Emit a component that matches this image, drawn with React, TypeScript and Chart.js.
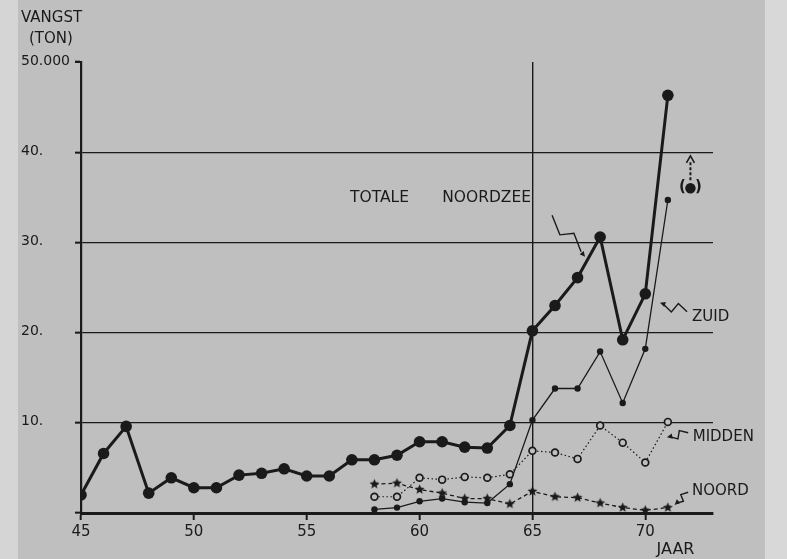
import React, { useEffect, useRef } from "react";
import { Chart, registerables } from "chart.js";

Chart.register(...registerables);

// ---------- data (thousand tonnes) ----------
const totalYears = [45, 46, 47, 48, 49, 50, 51, 52, 53, 54, 55, 56, 57, 58, 59, 60, 61, 62, 63, 64, 65, 66, 67, 68, 69, 70, 71];
const totale = [2.0, 6.6, 9.6, 2.2, 3.9, 2.8, 2.8, 4.2, 4.4, 4.9, 4.1, 4.1, 5.9, 5.9, 6.4, 7.9, 7.9, 7.3, 7.2, 9.7, 20.2, 23.0, 26.1, 30.6, 19.2, 24.3, 46.3];
const regionYears = [58, 59, 60, 61, 62, 63, 64, 65, 66, 67, 68, 69, 70, 71];
const zuid = [0.4, 0.6, 1.3, 1.6, 1.2, 1.1, 3.2, 10.3, 13.8, 13.8, 17.9, 12.2, 18.2, 34.7];
const midden = [1.8, 1.8, 3.9, 3.7, 4.0, 3.9, 4.3, 6.9, 6.7, 6.0, 9.7, 7.8, 5.6, 10.1];
const noord = [3.2, 3.3, 2.6, 2.2, 1.6, 1.6, 1.0, 2.4, 1.8, 1.7, 1.1, 0.6, 0.3, 0.6];
const estimateYear = [72];
const estimateValue = [36.0];

const xTicks = [45, 50, 55, 60, 65, 70];
const xTickLabels = ["45", "50", "55", "60", "65", "70"];
const yTicks = [0, 10, 20, 30, 40, 50];
const yTickLabels = ["", "10.", "20.", "30.", "40.", "50.000"];

const INK = "#1a1a1a";
const PAPER = "#bfbfbf";
const FONT = "'DejaVu Sans', 'Liberation Sans', sans-serif";

// annotation layout (data coordinates)
const seriesLabels = [
  { text: "TOTALE", x: 56.92, y: 34.9, size: 15.5 },
  { text: "NOORDZEE", x: 61.0, y: 34.9, size: 15.5 },
  { text: "ZUID", x: 72.07, y: 21.7, size: 15 },
  { text: "MIDDEN", x: 72.1, y: 8.4, size: 15 },
  { text: "NOORD", x: 72.07, y: 2.4, size: 15 },
];
const pointers = [
  { from: [65.87, 33.0], to: [67.33, 28.4] },
  { from: [71.85, 22.3], to: [70.65, 23.3] },
  { from: [71.9, 8.9], to: [70.96, 8.4] },
  { from: [71.9, 2.3], to: [71.3, 0.9] },
];

function makeStar(r: number) {
  const c = document.createElement("canvas");
  const s = Math.ceil(r * 2 + 2);
  c.width = s;
  c.height = s;
  const g = c.getContext("2d")!;
  g.fillStyle = INK;
  g.beginPath();
  for (let i = 0; i < 10; i++) {
    const rad = i % 2 === 0 ? r : r * 0.45;
    const a = -Math.PI / 2 + (i * Math.PI) / 5;
    const px = s / 2 + rad * Math.cos(a);
    const py = s / 2 + rad * Math.sin(a);
    if (i === 0) g.moveTo(px, py);
    else g.lineTo(px, py);
  }
  g.closePath();
  g.fill();
  return c;
}

function arrowHead(ctx: CanvasRenderingContext2D, fx: number, fy: number, tx: number, ty: number, len: number) {
  const a = Math.atan2(ty - fy, tx - fx);
  ctx.beginPath();
  ctx.moveTo(tx, ty);
  ctx.lineTo(tx - len * Math.cos(a - 0.45), ty - len * Math.sin(a - 0.45));
  ctx.lineTo(tx - len * Math.cos(a + 0.45), ty - len * Math.sin(a + 0.45));
  ctx.closePath();
  ctx.fill();
}

const decor = {
  id: "decor",
  afterDraw(chart: any) {
    const { ctx, chartArea } = chart;
    const x = chart.scales.x;
    const y = chart.scales.y;
    ctx.save();
    ctx.fillStyle = INK;
    ctx.strokeStyle = INK;
    ctx.textBaseline = "middle";

    // y tick labels
    ctx.textAlign = "left";
    ctx.font = `14px ${FONT}`;
    yTicks.forEach((v, i) => {
      if (yTickLabels[i]) ctx.fillText(yTickLabels[i], chartArea.left - 60, y.getPixelForValue(v) - 1);
    });
    // top hook of y axis
    ctx.lineWidth = 2;
    ctx.beginPath();
    ctx.moveTo(chartArea.left - 6, chartArea.top);
    ctx.lineTo(chartArea.left + 1, chartArea.top);
    ctx.stroke();

    // axis title
    ctx.font = `15px ${FONT}`;
    ctx.fillText("VANGST", chartArea.left - 60, chartArea.top - 44);
    ctx.fillText("(TON)", chartArea.left - 52, chartArea.top - 23);

    // x tick labels
    ctx.textAlign = "center";
    ctx.font = `15px ${FONT}`;
    xTicks.forEach((v, i) => ctx.fillText(xTickLabels[i], x.getPixelForValue(v), chartArea.bottom + 19));
    ctx.textAlign = "left";
    ctx.font = `16px ${FONT}`;
    ctx.fillText("JAAR", x.getPixelForValue(70.5), chartArea.bottom + 37);

    // series labels
    seriesLabels.forEach((l) => {
      ctx.font = `${l.size}px ${FONT}`;
      ctx.fillText(l.text, x.getPixelForValue(l.x), y.getPixelForValue(l.y));
    });

    // squiggle pointers
    ctx.lineWidth = 1.4;
    pointers.forEach((p) => {
      const ax = x.getPixelForValue(p.from[0]);
      const ay = y.getPixelForValue(p.from[1]);
      const bx = x.getPixelForValue(p.to[0]);
      const by = y.getPixelForValue(p.to[1]);
      const dx = bx - ax;
      const dy = by - ay;
      const len = Math.hypot(dx, dy);
      const nx = -dy / len;
      const ny = dx / len;
      const k = Math.min(6, len * 0.18);
      ctx.beginPath();
      ctx.moveTo(ax, ay);
      ctx.lineTo(ax + dx * 0.38 + nx * k, ay + dy * 0.38 + ny * k);
      ctx.lineTo(ax + dx * 0.52 - nx * k, ay + dy * 0.52 - ny * k);
      ctx.lineTo(bx - dx * 0.12, by - dy * 0.12);
      ctx.stroke();
      arrowHead(ctx, ax, ay, bx, by, 6);
    });

    // estimate marker: parentheses + dashed arrow up to 40
    const ex = x.getPixelForValue(estimateYear[0]);
    const ey = y.getPixelForValue(estimateValue[0]);
    ctx.font = `bold 15px ${FONT}`;
    ctx.textAlign = "center";
    ctx.fillText("(", ex - 8, ey - 1);
    ctx.fillText(")", ex + 8, ey - 1);
    const topY = y.getPixelForValue(39.6);
    ctx.lineWidth = 2;
    ctx.setLineDash([3, 2]);
    ctx.beginPath();
    ctx.moveTo(ex, ey - 8);
    ctx.lineTo(ex, topY + 5);
    ctx.stroke();
    ctx.setLineDash([]);
    ctx.lineWidth = 1.6;
    ctx.beginPath();
    ctx.moveTo(ex - 4, topY + 7);
    ctx.lineTo(ex, topY);
    ctx.lineTo(ex + 4, topY + 7);
    ctx.stroke();
    ctx.restore();
  },
};

export default function App() {
  const ref = useRef<HTMLCanvasElement | null>(null);

  useEffect(() => {
    document.body.style.margin = "0";
    const star = makeStar(5.2);
    const toXY = (xs: number[], ys: number[]) => xs.map((v, i) => ({ x: v, y: ys[i] }));
    const chart = new Chart(ref.current!, {
      type: "line",
      data: {
        datasets: [
          {
            label: "NOORD",
            data: toXY(regionYears, noord),
            borderColor: INK,
            borderWidth: 1.3,
            borderDash: [4, 3],
            pointStyle: star as any,
            pointRadius: 5,
          },
          {
            label: "MIDDEN",
            data: toXY(regionYears, midden),
            borderColor: INK,
            borderWidth: 1.2,
            borderDash: [1.5, 2.5],
            pointStyle: "circle",
            pointRadius: 3.4,
            pointBorderWidth: 1.7,
            pointBackgroundColor: PAPER,
            pointBorderColor: INK,
          },
          {
            label: "ZUID",
            data: toXY(regionYears, zuid),
            borderColor: INK,
            borderWidth: 1.3,
            pointStyle: "circle",
            pointRadius: 3.2,
            pointBorderWidth: 0,
            pointBackgroundColor: INK,
          },
          {
            label: "TOTALE NOORDZEE",
            data: toXY(totalYears, totale),
            borderColor: INK,
            borderWidth: 3,
            pointStyle: "circle",
            pointRadius: 5.8,
            pointBorderWidth: 0,
            pointBackgroundColor: INK,
          },
          {
            label: "schatting",
            data: toXY(estimateYear, estimateValue),
            showLine: false,
            pointStyle: "circle",
            pointRadius: 5.2,
            pointBorderWidth: 0,
            pointBackgroundColor: INK,
          },
        ],
      },
      options: {
        animation: false,
        responsive: false,
        devicePixelRatio: 1,
        events: [],
        layout: { padding: { top: 62, right: 74, left: 0, bottom: 0 } },
        plugins: { legend: { display: false }, tooltip: { enabled: false } },
        elements: { line: { tension: 0 } },
        scales: {
          x: {
            type: "linear",
            min: 45,
            max: 73,
            afterBuildTicks: (s: any) => {
              s.ticks = xTicks.map((v) => ({ value: v }));
            },
            afterFit: (s: any) => {
              s.height = 46;
            },
            ticks: { display: false },
            grid: {
              color: (c: any) => (c.tick && c.tick.value === 65 ? INK : "rgba(0,0,0,0)"),
              lineWidth: 1.4,
              tickColor: INK,
              tickLength: 7,
              tickWidth: 2,
            },
            border: { display: true, color: INK, width: 3 },
          },
          y: {
            type: "linear",
            min: 0,
            max: 50,
            afterBuildTicks: (s: any) => {
              s.ticks = yTicks.map((v) => ({ value: v }));
            },
            afterFit: (s: any) => {
              s.width = 81;
            },
            ticks: { display: false },
            grid: {
              color: (c: any) => (c.tick && (c.tick.value === 0 || c.tick.value === 50) ? "rgba(0,0,0,0)" : INK),
              lineWidth: 1.3,
              tickColor: INK,
              tickLength: 6,
              tickWidth: 2,
            },
            border: { display: true, color: INK, width: 2.2 },
          },
        },
      },
      plugins: [decor],
    });
    return () => chart.destroy();
  }, []);

  return (
    <div
      style={{
        position: "fixed",
        left: 0,
        top: 0,
        width: 787,
        height: 559,
        background:
          "linear-gradient(to right, #d5d5d5 0px, #d5d5d5 18px, #bfbfbf 18px, #bfbfbf 765px, #d8d8d8 765px)",
      }}
    >
      <canvas ref={ref} width={787} height={559} style={{ display: "block" }} />
    </div>
  );
}
